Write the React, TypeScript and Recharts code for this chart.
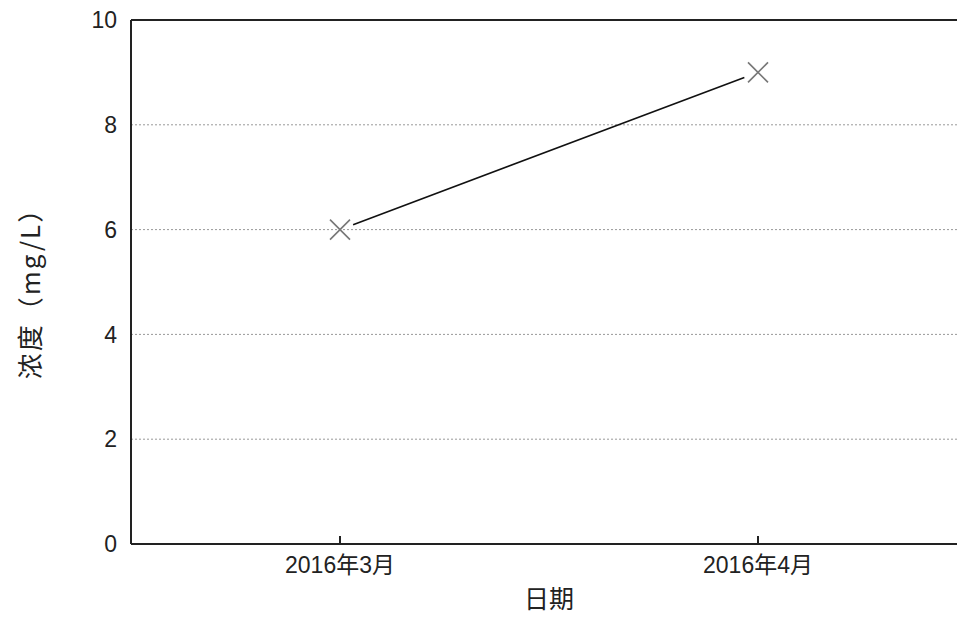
import { LineChart, Line, XAxis, YAxis, CartesianGrid, ReferenceLine } from "recharts";

const months = ["2016年3月", "2016年4月"];
const concentration = [6, 9];
const yTicks = [0, 2, 4, 6, 8, 10];

const data = months.map((m, i) => ({ month: m, value: concentration[i] }));

const font = '"Liberation Sans", Arial, "Noto Sans CJK SC", sans-serif';
const cjk = '"Noto Sans CJK SC", sans-serif';

function CrossDot(props: any) {
  const { cx, cy } = props;
  if (cx == null || cy == null) return null;
  const r = 10;
  return (
    <g>
      <line x1={cx - r} y1={cy - r} x2={cx + r} y2={cy + r} stroke="#777" strokeWidth={1.6} />
      <line x1={cx - r} y1={cy + r} x2={cx + r} y2={cy - r} stroke="#777" strokeWidth={1.6} />
    </g>
  );
}

export default function App() {
  return (
    <div
      style={{
        position: "absolute",
        left: 0,
        top: 0,
        width: 957,
        height: 618,
        overflow: "hidden",
        background: "#fff",
        fontFamily: font,
      }}
    >
      <LineChart width={980} height={618} data={data} margin={{ top: 20, right: 13, bottom: 0, left: 0 }}>
        <CartesianGrid horizontal vertical={false} stroke="#999" strokeDasharray="2 2" />
        <XAxis
          dataKey="month"
          height={74}
          padding={{ left: 209, right: 209 }}
          axisLine={{ stroke: "#222", strokeWidth: 2 }}
          tickLine={{ stroke: "#222", strokeWidth: 2 }}
          tickSize={-8}
          tickMargin={21}
          tick={{ fontSize: 23, fill: "#222", fontFamily: font }}
          label={{ value: "日期", position: "insideBottom", offset: 10, style: { fontSize: 25, fill: "#222", fontFamily: cjk } }}
        />
        <YAxis
          width={131}
          domain={[0, 10]}
          ticks={yTicks}
          axisLine={{ stroke: "#222", strokeWidth: 2 }}
          tickLine={false}
          tickSize={0}
          tickMargin={14}
          tick={{ fontSize: 23, fill: "#222", fontFamily: font }}
          label={{
            value: "浓度（mg/L）",
            angle: -90,
            position: "insideLeft",
            offset: 31,
            dy: 5,
            style: { textAnchor: "middle", fontSize: 26, letterSpacing: 2, fill: "#222", fontFamily: cjk },
          }}
        />
        <ReferenceLine y={10} stroke="#222" strokeWidth={2} />
        <Line
          dataKey="value"
          stroke="#111"
          strokeWidth={1.6}
          strokeDasharray="0 14 418 20"
          dot={<CrossDot />}
          activeDot={false}
          isAnimationActive={false}
        />
      </LineChart>
    </div>
  );
}
